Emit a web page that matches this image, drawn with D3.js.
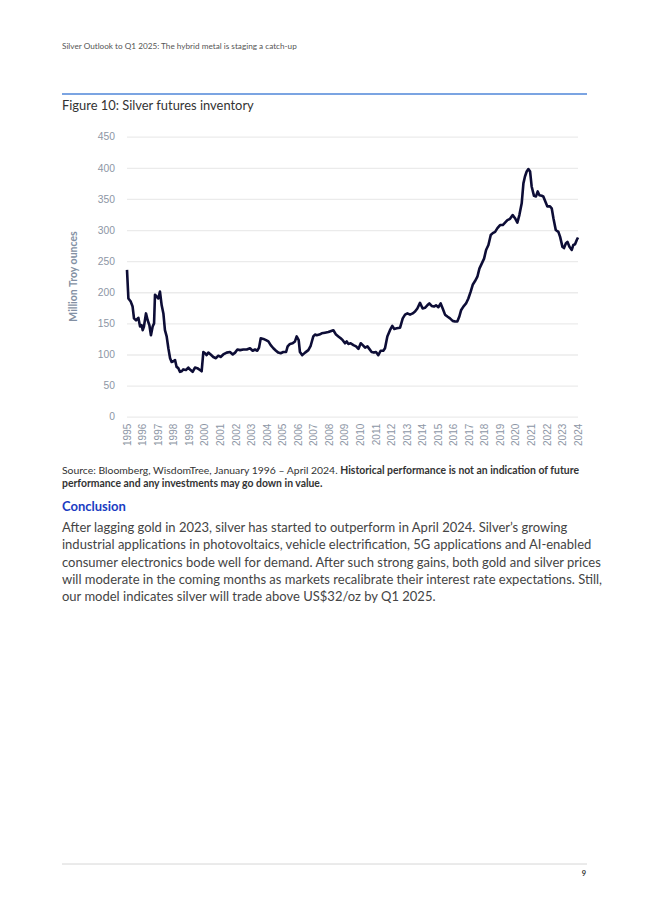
<!DOCTYPE html>
<html>
<head>
<meta charset="utf-8">
<script src="https://cdn.jsdelivr.net/npm/d3@7"></script>
<style>
  body { margin: 0; background: #fff; }
  svg { display: block; font-family: "Source Sans Pro", Lato, "Noto Sans", sans-serif; }
</style>
</head>
<body>
<div id="page"></div>
<script>
// fractional year of each reading
const dates = [
  1995.00, 1995.09, 1995.24, 1995.36, 1995.45, 1995.58, 1995.73, 1995.84, 1995.94, 1996.01,
  1996.09, 1996.22, 1996.33, 1996.44, 1996.54, 1996.65, 1996.74, 1996.80, 1996.91, 1997.01,
  1997.12, 1997.23, 1997.34, 1997.44, 1997.55, 1997.66, 1997.77, 1997.87, 1997.98, 1998.09,
  1998.19, 1998.30, 1998.41, 1998.52, 1998.62, 1998.79, 1998.94, 1999.09, 1999.22, 1999.37,
  1999.52, 1999.69, 1999.80, 1999.91, 2000.02, 2000.12, 2000.23, 2000.38, 2000.55, 2000.72,
  2000.87, 2001.02, 2001.19, 2001.41, 2001.62, 2001.80, 2001.95, 2002.10, 2002.27, 2002.48,
  2002.70, 2002.91, 2003.08, 2003.23, 2003.38, 2003.49, 2003.60, 2003.77, 2003.94, 2004.09,
  2004.24, 2004.41, 2004.58, 2004.73, 2004.88, 2005.05, 2005.23, 2005.33, 2005.48, 2005.65,
  2005.80, 2005.91, 2006.04, 2006.12, 2006.27, 2006.45, 2006.66, 2006.81, 2006.98, 2007.09,
  2007.20, 2007.37, 2007.52, 2007.73, 2007.95, 2008.27, 2008.44, 2008.59, 2008.74, 2008.87,
  2009.02, 2009.13, 2009.23, 2009.38, 2009.56, 2009.73, 2009.88, 2010.03, 2010.16, 2010.31,
  2010.46, 2010.58, 2010.73, 2010.88, 2011.01, 2011.16, 2011.31, 2011.48, 2011.59, 2011.74,
  2011.91, 2012.06, 2012.19, 2012.34, 2012.56, 2012.73, 2012.88, 2013.03, 2013.20, 2013.37,
  2013.52, 2013.67, 2013.84, 2014.01, 2014.16, 2014.31, 2014.44, 2014.59, 2014.74, 2014.87,
  2015.02, 2015.17, 2015.30, 2015.45, 2015.60, 2015.77, 2015.94, 2016.09, 2016.24, 2016.37,
  2016.48, 2016.63, 2016.80, 2016.95, 2017.10, 2017.23, 2017.38, 2017.53, 2017.66, 2017.81,
  2017.96, 2018.09, 2018.24, 2018.39, 2018.52, 2018.67, 2018.82, 2018.99, 2019.16, 2019.31,
  2019.46, 2019.63, 2019.80, 2019.95, 2020.10, 2020.23, 2020.38, 2020.49, 2020.59, 2020.70,
  2020.81, 2020.92, 2021.02, 2021.17, 2021.30, 2021.41, 2021.52, 2021.67, 2021.77, 2021.88,
  2022.03, 2022.20, 2022.31, 2022.42, 2022.57, 2022.74, 2022.85, 2023.00, 2023.10, 2023.23,
  2023.32, 2023.45, 2023.60, 2023.70, 2023.81, 2023.92, 2024.00
];

// silver futures inventory, million troy ounces
const inventory = [
  236, 190, 185, 177, 158, 155, 159, 145, 147, 139,
  145, 166, 155, 147, 131, 145, 150, 196, 193, 190,
  201, 179, 166, 139, 129, 110, 94, 88, 89, 91,
  80, 78, 72, 73, 76, 75, 79, 75, 72, 79,
  78, 75, 73, 104, 102, 99, 103, 100, 96, 94,
  98, 96, 100, 103, 104, 100, 103, 108, 107, 108,
  108, 110, 106, 108, 106, 111, 126, 125, 123, 121,
  115, 110, 106, 103, 102, 104, 104, 113, 117, 118,
  121, 129, 123, 104, 99, 103, 107, 114, 129, 132,
  131, 132, 134, 135, 136, 139, 132, 129, 126, 123,
  118, 121, 117, 118, 115, 113, 109, 118, 115, 111,
  113, 109, 104, 103, 104, 99, 106, 106, 110, 129,
  139, 146, 141, 142, 143, 158, 164, 166, 164, 166,
  169, 174, 183, 174, 175, 179, 182, 178, 177, 179,
  176, 182, 174, 164, 161, 158, 154, 153, 153, 161,
  171, 177, 182, 190, 201, 212, 218, 225, 238, 246,
  254, 268, 276, 292, 295, 297, 303, 308, 308, 312,
  316, 318, 324, 319, 312, 324, 343, 375, 386, 394,
  398, 394, 370, 355, 354, 362, 356, 355, 354, 347,
  338, 338, 335, 319, 300, 297, 289, 273, 271, 279,
  281, 273, 268, 276, 277, 284, 288
];

const yearTicks = d3.range(1995, 2025);
const yTicks = [0, 50, 100, 150, 200, 250, 300, 350, 400, 450];

const header = "Silver Outlook to Q1 2025: The hybrid metal is staging a catch-up";
const figureTitle = "Figure 10: Silver futures inventory";
const yTitle = "Million Troy ounces";
const sourcePlain = "Source: Bloomberg, WisdomTree, January 1996 \u2013 April 2024. ";
const sourceBold1 = "Historical performance is not an indication of future";
const sourceBold2 = "performance and any investments may go down in value.";
const conclusionTitle = "Conclusion";
const conclusionLines = [
  "After lagging gold in 2023, silver has started to outperform in April 2024. Silver\u2019s growing",
  "industrial applications in photovoltaics, vehicle electrification, 5G applications and AI-enabled",
  "consumer electronics bode well for demand. After such strong gains, both gold and silver prices",
  "will moderate in the coming months as markets recalibrate their interest rate expectations. Still,",
  "our model indicates silver will trade above US$32/oz by Q1 2025."
];

const W = 650, H = 919;
const svg = d3.select("#page").append("svg")
  .attr("width", W)
  .attr("height", H);

// page header
svg.append("text")
  .attr("x", 62).attr("y", 49)
  .attr("font-size", 8.2).attr("fill", "#555")
  .text(header);

svg.append("line")
  .attr("x1", 62).attr("x2", 587).attr("y1", 94).attr("y2", 94)
  .attr("stroke", "#4f86d9").attr("stroke-width", 1.3);

svg.append("text")
  .attr("x", 62).attr("y", 110)
  .attr("font-size", 12.9).attr("fill", "#333")
  .text(figureTitle);

// chart
const plot = { left: 127, right: 578, top: 136.7, bottom: 416.7 };

const x = d3.scaleLinear()
  .domain([1995, 2024])
  .range([plot.left, plot.right]);

const y = d3.scaleLinear()
  .domain([0, 450])
  .range([plot.bottom, plot.top]);

const yAxis = svg.append("g")
  .attr("transform", `translate(${plot.left},0)`)
  .call(d3.axisLeft(y).tickValues(yTicks).tickSize(-(plot.right - plot.left)).tickPadding(12));
yAxis.select(".domain").remove();
yAxis.selectAll(".tick line").attr("stroke", "#ebebeb").attr("stroke-width", 1.3);
yAxis.selectAll(".tick text")
  .attr("font-size", 10.3).attr("fill", "#8d96a5")
  .attr("font-family", "inherit");

const xAxis = svg.append("g")
  .attr("transform", `translate(0,${plot.bottom})`)
  .call(d3.axisBottom(x).tickValues(yearTicks).tickFormat(d3.format("d")).tickSize(0));
xAxis.select(".domain").remove();
xAxis.selectAll(".tick text")
  .attr("font-size", 10).attr("fill", "#8d96a5")
  .attr("font-family", "inherit")
  .attr("text-anchor", "end")
  .attr("transform", "rotate(-90)")
  .attr("dx", "-7")
  .attr("dy", "0.32em")
  .attr("y", 0)
  .attr("x", 0);

svg.append("text")
  .attr("transform", "rotate(-90)")
  .attr("x", -276.5).attr("y", 76.5)
  .attr("text-anchor", "middle")
  .attr("font-size", 10.5).attr("font-weight", 700)
  .attr("fill", "#8390a3")
  .text(yTitle);

const line = d3.line()
  .x((d, i) => x(dates[i]))
  .y(d => y(d));

svg.append("path")
  .datum(inventory)
  .attr("d", line)
  .attr("fill", "none")
  .attr("stroke", "#0d0d36")
  .attr("stroke-width", 2.6)
  .attr("stroke-linejoin", "round");

// source note
const src = svg.append("text")
  .attr("x", 62).attr("y", 474)
  .attr("font-size", 10.4).attr("fill", "#333");
src.append("tspan").text(sourcePlain);
src.append("tspan").attr("font-weight", 700).text(sourceBold1);

svg.append("text")
  .attr("x", 62).attr("y", 487)
  .attr("font-size", 10.4).attr("fill", "#333").attr("font-weight", 700)
  .text(sourceBold2);

svg.append("text")
  .attr("x", 62).attr("y", 511)
  .attr("font-size", 13).attr("font-weight", 700).attr("fill", "#1a3cc2")
  .text(conclusionTitle);

svg.append("g")
  .selectAll("text")
  .data(conclusionLines)
  .join("text")
  .attr("x", 62)
  .attr("y", (d, i) => 532.3 + i * 17.1)
  .attr("font-size", 13).attr("fill", "#444")
  .text(d => d);

// footer
svg.append("line")
  .attr("x1", 62).attr("x2", 587).attr("y1", 864).attr("y2", 864)
  .attr("stroke", "#d6d6d6").attr("stroke-width", 1);

svg.append("text")
  .attr("x", 586).attr("y", 876)
  .attr("text-anchor", "end")
  .attr("font-size", 7.5).attr("font-weight", 700).attr("fill", "#333")
  .text("9");
</script>
</body>
</html>
